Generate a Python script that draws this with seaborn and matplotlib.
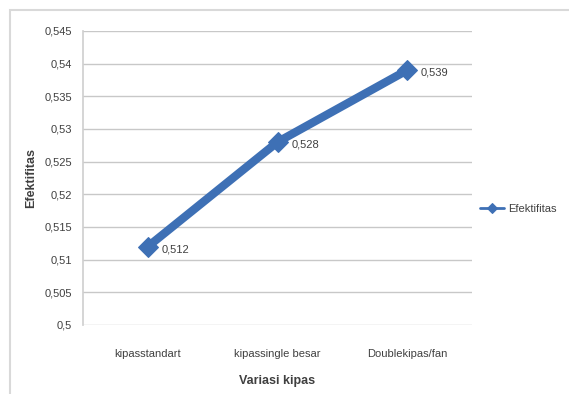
import matplotlib
matplotlib.use("Agg")
import matplotlib.pyplot as plt
import matplotlib.patches as mpatches
import seaborn as sns
import pandas as pd
import numpy as np

categories = ["kipasstandart", "kipassingle besar", "Doublekipas/fan"]
efektifitas = [0.512, 0.528, 0.539]
yticks = [0.5, 0.505, 0.51, 0.515, 0.52, 0.525, 0.53, 0.535, 0.54, 0.545]
ytick_labels = ["0,5", "0,505", "0,51", "0,515", "0,52", "0,525", "0,53", "0,535", "0,54", "0,545"]

sns.set_theme(style="white")
plt.rcParams["font.family"] = ["Liberation Sans Narrow", "Liberation Sans", "DejaVu Sans"]

df = pd.DataFrame({"pos": np.arange(len(categories)), "Efektifitas": efektifitas})

fig = plt.figure(figsize=(5.69, 3.94), dpi=100)
ax = fig.add_axes([83 / 569, 1 - 325 / 394, (472 - 83) / 569, (325 - 31) / 394])

blue = "#3E70B5"
sns.lineplot(data=df, x="pos", y="Efektifitas", ax=ax, color=blue, linewidth=6,
             marker="D", markersize=10, markeredgecolor=blue, sort=False,
             label="Efektifitas", legend=False)

for x, v in zip(df["pos"], efektifitas):
    ax.annotate(f"{v:.3f}".replace(".", ","), (x, v), xytext=(10, -2),
                textcoords="offset points", fontsize=8, color="#404040",
                va="center", ha="left")

ax.set_xlim(-0.5, len(categories) - 0.5)
ax.set_ylim(0.5, 0.545)
ax.set_yticks(yticks)
ax.set_yticklabels(ytick_labels, fontsize=8, color="#404040")
ax.set_xticks(df["pos"])
ax.set_xticklabels(categories, fontsize=8, color="#404040")
ax.tick_params(axis="y", length=0, pad=8)
ax.tick_params(axis="x", length=0, pad=17)
ax.yaxis.grid(True, color="#C8C8C8", linewidth=1)
ax.set_axisbelow(True)
for side in ["top", "right", "bottom"]:
    ax.spines[side].set_visible(False)
ax.spines["left"].set_color("#D0D0D0")

ax.set_xlabel("Variasi kipas", fontsize=9, fontweight="bold", color="#404040", labelpad=12)
ax.set_ylabel("Efektifitas", fontsize=9, fontweight="bold", color="#404040", labelpad=5)

# legend to the right of the plot area
handles, labels = ax.get_legend_handles_labels()
leg = fig.legend(handles=handles, labels=labels, loc="center left",
                 bbox_to_anchor=(470 / 569, 1 - 209 / 394), frameon=False,
                 fontsize=8, handlelength=2.2, handletextpad=0.3)
for h in leg.legend_handles:
    h.set_linewidth(2)
    h.set_markersize(5)
for t in leg.get_texts():
    t.set_color("#404040")

# chart area border
fig.patches.append(mpatches.Rectangle((10 / 569, -0.5), 1.5, 1 - 10 / 394 + 0.5,
                                      transform=fig.transFigure, fill=False,
                                      edgecolor="#D9D9D9", linewidth=1.5))

fig.savefig("out.png", dpi=100)
